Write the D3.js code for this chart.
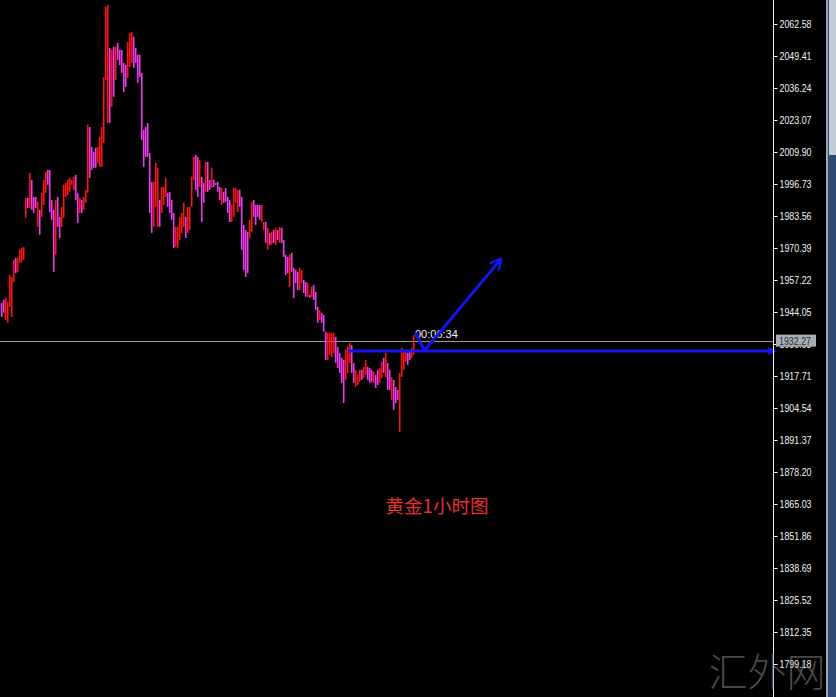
<!DOCTYPE html>
<html><head><meta charset="utf-8">
<script src="https://cdnjs.cloudflare.com/ajax/libs/d3/7.8.5/d3.min.js"></script>
<style>html,body{margin:0;padding:0;background:#000;overflow:hidden}svg{display:block}</style>
</head><body><svg id="c" width="836" height="697"></svg>
<script>
// ---- data (XAUUSD 1H bars) ----
const highs = [
1947.8,1949.0,1949.9,1948.2,1959.3,1958.5,1965.5,1966.3,1966.3,1969.6,
1970.4,1970.8,1991.0,1991.0,2001.3,1998.4,1991.4,1991.4,1989.4,1986.1,
1993.1,1998.4,2001.7,2002.5,2002.5,1990.2,1986.1,1990.2,1991.4,1983.2,
1987.3,1996.4,1997.2,1998.4,1999.2,1998.4,1999.7,2000.5,1993.1,1991.0,
1990.2,1991.4,1994.3,2021.1,2020.2,2012.0,2009.9,2011.6,2012.0,2016.1,
2020.2,2040.8,2069.6,2070.4,2052.7,2051.9,2053.2,2053.2,2054.8,2051.9,
2051.9,2046.6,2045.7,2055.2,2058.9,2059.3,2057.3,2052.7,2049.9,2049.9,
2042.5,2019.0,2020.2,2021.9,2009.5,1997.6,1997.6,2005.4,2003.4,1990.2,
1995.5,1995.5,1999.2,1993.1,1993.5,1990.2,1984.8,1979.1,1979.1,1983.2,
1984.8,1989.0,1983.2,1987.3,1987.3,1999.7,2007.9,2008.7,2007.9,2006.7,
1999.7,1997.2,2005.8,2005.8,1998.4,2003.4,1998.4,1997.2,1997.6,1995.5,
1995.1,1993.5,1995.1,1991.4,1990.2,1988.1,1995.1,1995.1,1994.3,1994.3,
1991.4,1979.9,1977.8,1977.0,1982.0,1989.4,1990.2,1988.1,1988.1,1988.1,
1988.1,1981.1,1981.1,1978.7,1976.6,1977.0,1977.8,1978.7,1977.8,1979.1,
1978.7,1973.7,1967.6,1966.7,1967.6,1968.4,1962.2,1961.4,1960.6,1962.2,
1961.4,1957.3,1956.4,1956.0,1951.1,1954.4,1955.2,1952.3,1946.2,1944.9,
1943.7,1942.9,1935.9,1935.5,1935.5,1935.5,1935.5,1933.8,1929.7,1927.2,
1925.2,1924.3,1928.5,1929.7,1931.3,1930.5,1923.1,1920.2,1918.2,1920.2,
1920.2,1921.5,1924.3,1921.5,1921.0,1920.2,1919.4,1918.2,1920.2,1921.0,
1923.5,1925.2,1927.2,1923.1,1920.2,1917.3,1916.1,1913.2,1912.0,1919.0,
1929.3,1928.5,1928.5,1927.2,1928.5,1929.3,1934.5];
const lows = [
1942.0,1943.7,1940.8,1939.6,1946.2,1942.0,1956.4,1960.1,1960.6,1964.3,
1964.7,1965.5,1982.8,1986.9,1986.9,1986.1,1984.8,1986.9,1979.1,1975.8,
1983.2,1988.1,1993.1,1996.4,1985.2,1982.0,1960.6,1967.6,1979.1,1974.5,
1979.1,1982.8,1991.4,1992.2,1993.5,1996.4,1994.3,1990.2,1980.7,1984.8,
1984.8,1986.1,1989.0,1993.1,1999.2,2002.5,2003.4,2003.4,2005.4,2003.8,
2003.8,2013.6,2039.6,2021.9,2021.9,2028.5,2032.6,2039.6,2047.8,2045.7,
2042.5,2034.6,2036.7,2040.4,2044.9,2046.6,2044.5,2046.6,2038.3,2040.8,
2014.9,2003.8,2007.9,2007.9,1984.8,1976.6,1979.1,1987.3,1979.1,1979.1,
1984.8,1988.1,1991.4,1987.3,1984.8,1982.0,1970.4,1970.8,1970.4,1973.7,
1976.6,1979.1,1974.5,1976.6,1977.8,1987.3,1998.4,1994.3,1991.4,1995.5,
1981.1,1989.0,1993.5,1993.5,1994.3,1995.1,1995.5,1996.4,1993.5,1990.2,
1988.1,1989.0,1989.4,1984.8,1981.1,1981.1,1983.2,1989.0,1985.2,1987.3,
1969.6,1961.4,1958.5,1960.1,1974.5,1977.0,1983.2,1979.9,1983.2,1982.0,
1981.1,1977.8,1972.5,1969.6,1971.7,1971.7,1972.5,1971.7,1973.7,1972.5,
1972.5,1966.7,1959.3,1960.1,1954.4,1960.6,1949.9,1956.0,1953.1,1953.1,
1956.0,1951.9,1950.3,1950.3,1949.9,1950.3,1949.0,1944.9,1939.6,1940.8,
1939.6,1935.9,1924.3,1924.3,1926.4,1925.6,1927.2,1923.1,1921.0,1919.0,
1914.9,1906.6,1916.1,1919.0,1923.1,1919.0,1914.9,1913.2,1914.0,1915.3,
1916.1,1916.9,1918.2,1916.1,1914.9,1915.3,1914.9,1912.8,1914.0,1914.9,
1916.9,1919.0,1917.3,1912.0,1912.0,1907.9,1903.8,1906.6,1907.9,1894.7,
1917.3,1920.2,1923.5,1922.3,1924.3,1925.2,1926.4];
// 1 = bullish (red), 0 = bearish (magenta)
const up = [
0,0,1,1,1,1,1,0,1,1, 1,1,1,0,1,0,0,0,1,0, 1,1,1,0,0,0,0,1,0,0,
1,1,1,1,1,1,1,0,0,1, 0,1,1,1,0,0,0,0,1,1, 1,1,1,1,0,1,0,1,0,0,
0,0,0,1,1,1,0,0,0,0, 0,0,0,0,0,0,1,1,1,0, 1,1,1,0,0,0,0,1,1,1,
1,1,0,1,1,1,1,0,0,1, 0,0,1,0,0,1,0,0,0,0, 1,0,0,0,0,1,1,1,1,0,
0,0,0,0,1,1,0,0,0,0, 1,1,0,1,0,1,0,1,0,1, 0,0,0,0,1,0,0,0,0,1,
1,0,0,1,0,1,0,0,0,1, 0,0,0,1,1,1,1,0,0,0, 0,0,1,1,1,0,0,1,1,1,
0,1,1,0,0,0,1,0,0,1, 1,0,1,0,0,1,0,0,0,1, 1,1,1,0,0,1,1];
const tickLabels = ["2062.58","2049.41","2036.24","2023.07","2009.90","1996.73","1983.56",
"1970.39","1957.22","1944.05","1930.88","1917.71","1904.54","1891.37","1878.20","1865.03",
"1851.86","1838.69","1825.52","1812.35","1799.18"];
const currentPrice = 1932.27;
const timerText = "00:06:34";
const title = "黄金1小时图";
const watermark = "汇外网";
// hand-drawn trend objects, in (bar index, price)
const hLine = [[173.5, 1928.0],[386, 1928.0]];
const arrowUp = [[212, 1928.4],[249.5, 1965.4]];
const arrowDown = [[207.5, 1935.0],[211.5, 1928.6]];

// ---- drawing ----
const W = 836, H = 697, axisX = 773;
const svg = d3.select("#c");
const y = d3.scaleLinear().domain([1799.18, 2062.58]).range([664, 24]);
const x = d3.scaleLinear().domain([0, 386]).range([1, axisX]);

svg.append("rect").attr("width", W).attr("height", H).attr("fill", "#000");

// current price line
svg.append("line").attr("x1", 0).attr("x2", axisX).attr("y1", Math.round(y(currentPrice)) + 0.5)
  .attr("y2", Math.round(y(currentPrice)) + 0.5).attr("stroke", "#9a9a9a").attr("stroke-width", 1);

// bars
const bars = highs.map((h, i) => ({i, h, l: lows[i], up: up[i]}));
svg.append("g").selectAll("rect").data(bars).join("rect")
  .attr("x", d => x(d.i) - 0.1)
  .attr("width", 1.6)
  .attr("y", d => y(d.h))
  .attr("height", d => Math.max(2, y(d.l) - y(d.h)))
  .attr("fill", d => d.up ? "#ff1414" : "#f03cf0");

// timer text
svg.append("text").attr("x", x(207)).attr("y", y(currentPrice) - 3)
  .attr("fill", "#f0f0f0").attr("font-family", "Liberation Sans, Arial, sans-serif")
  .attr("font-size", 11).text(timerText);

// blue objects
const defs = svg.append("defs");
defs.append("marker").attr("id", "ah").attr("viewBox", "0 0 10 10").attr("refX", 8).attr("refY", 5)
  .attr("markerWidth", 4).attr("markerHeight", 4).attr("orient", "auto").attr("markerUnits", "strokeWidth")
  .append("path").attr("d", "M0,0 L10,5 L0,10").attr("fill", "none").attr("stroke", "#1414f0").attr("stroke-width", 2);
defs.append("marker").attr("id", "ad").attr("viewBox", "0 0 10 10").attr("refX", 5).attr("refY", 5)
  .attr("markerWidth", 3.2).attr("markerHeight", 3.2).attr("orient", "auto").attr("markerUnits", "strokeWidth")
  .append("path").attr("d", "M0,1 L10,5 L0,9 Z").attr("fill", "#1414f0");
const line = d3.line().x(d => x(d[0])).y(d => y(d[1]));
svg.append("path").attr("d", line(hLine)).attr("stroke", "#1414f0").attr("stroke-width", 3)
  .attr("fill", "none").attr("marker-end", "url(#ad)");
svg.append("path").attr("d", line(arrowUp)).attr("stroke", "#1414f0").attr("stroke-width", 3)
  .attr("fill", "none").attr("marker-end", "url(#ah)");
svg.append("path").attr("d", line(arrowDown)).attr("stroke", "#1414f0").attr("stroke-width", 3)
  .attr("fill", "none").attr("stroke-linecap", "round");

// axis
svg.append("line").attr("x1", axisX + 0.5).attr("x2", axisX + 0.5).attr("y1", 0).attr("y2", H)
  .attr("stroke", "#f4f4f4").attr("stroke-width", 1);
const ax = svg.append("g").attr("transform", `translate(${axisX + 0.5},0)`)
  .call(d3.axisRight(y).tickValues(tickLabels.map(Number)).tickSize(4).tickPadding(2)
    .tickFormat((d, i) => tickLabels[i]));
ax.select(".domain").remove();
ax.selectAll(".tick line").attr("stroke", "#f4f4f4");
ax.selectAll(".tick text").attr("fill", "#f4f4f4").attr("font-family", "Liberation Sans, Arial, sans-serif")
  .attr("font-size", 11).attr("textLength", 32).attr("lengthAdjust", "spacingAndGlyphs");

// current price label
const cy = y(currentPrice);
svg.append("rect").attr("x", axisX + 3).attr("y", cy - 6).attr("width", 40).attr("height", 12)
  .attr("fill", "#a6aeb6");
svg.append("text").attr("x", axisX + 6).attr("y", cy + 4).attr("fill", "#2a3038")
  .attr("font-family", "Liberation Sans, Arial, sans-serif").attr("font-size", 11)
  .attr("textLength", 32).attr("lengthAdjust", "spacingAndGlyphs").text(currentPrice.toFixed(2));

// scrollbar
svg.append("rect").attr("x", 826).attr("y", 0).attr("width", 10).attr("height", H).attr("fill", "#2e4a72");
svg.append("rect").attr("x", 826).attr("y", 0).attr("width", 2).attr("height", H).attr("fill", "#9aa6b8");
svg.append("rect").attr("x", 829).attr("y", 0).attr("width", 7).attr("height", 155).attr("fill", "#c4ccd8");

// title
svg.append("text").attr("x", 437).attr("y", 513).attr("text-anchor", "middle")
  .attr("fill", "#e8302c").attr("font-family", "Noto Sans CJK SC, sans-serif").attr("font-size", 18.5)
  .text(title);

// watermark
svg.append("text").attr("x", 767).attr("y", 686).attr("text-anchor", "middle")
  .attr("fill", "#8a8a8a").attr("fill-opacity", 0.55).attr("font-family", "Noto Sans CJK SC, sans-serif")
  .attr("font-weight", 300).attr("font-size", 39).text(watermark);
</script></body></html>
